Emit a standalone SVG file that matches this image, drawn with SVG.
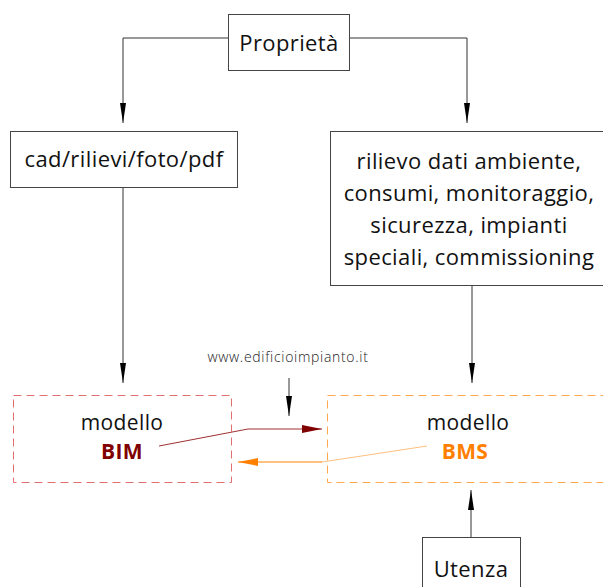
<svg xmlns="http://www.w3.org/2000/svg" width="603" height="587" viewBox="0 0 603 587">
<defs>
<style>
.box{fill:#fff;stroke:#444;stroke-width:1}
.t{font-family:"Open Sans","Noto Sans","DejaVu Sans",sans-serif;font-size:22px;letter-spacing:0.4px;fill:#111;text-anchor:middle}
.m{font-size:21px}
.b{font-weight:bold}
.c{fill:none;stroke:#333;stroke-width:1}
</style>
<marker id="ak" viewBox="0 0 20 6" refX="20" refY="3" markerWidth="20" markerHeight="6" markerUnits="userSpaceOnUse" orient="auto">
<path d="M0,0 L20,3 L0,6 Z" fill="#000"/>
</marker>
<marker id="ar" viewBox="0 0 20 8" refX="20" refY="4" markerWidth="20" markerHeight="8" markerUnits="userSpaceOnUse" orient="auto">
<path d="M0,0 L20,4 L0,8 Z" fill="#800000"/>
</marker>
<marker id="ao" viewBox="0 0 20 8" refX="20" refY="4" markerWidth="20" markerHeight="8" markerUnits="userSpaceOnUse" orient="auto">
<path d="M0,0 L20,4 L0,8 Z" fill="#ff8000"/>
</marker>
</defs>
<g id="connectors">
<path class="c" d="M228,38 H123 V123" marker-end="url(#ak)"/>
<path class="c" d="M349,38 H467 V123" marker-end="url(#ak)"/>
<path class="c" d="M123,188 V383" marker-end="url(#ak)"/>
<path class="c" d="M472,285 V383" marker-end="url(#ak)"/>
<path class="c" d="M289,378 V416" marker-end="url(#ak)"/>
<path class="c" d="M471,537 V490" marker-end="url(#ak)"/>
<path fill="none" stroke="#a03030" stroke-width="1" d="M159,446 L248,429 H322" marker-end="url(#ar)"/>
<path fill="none" stroke="#ffc080" stroke-width="1" d="M427,446 L322,462"/>
<path fill="none" stroke="#ff8000" stroke-width="1" d="M322,462 H238" marker-end="url(#ao)"/>
</g>
<g id="proprieta">
<rect class="box" x="228.5" y="14.5" width="121" height="56"/>
<text class="t" x="289" y="51">Proprietà</text>
</g>
<g id="cad">
<rect class="box" x="10.5" y="131.5" width="227" height="56"/>
<text class="t" x="124" y="167">cad/rilievi/foto/pdf</text>
</g>
<g id="rilievo">
<rect class="box" x="330.5" y="131.5" width="280" height="154"/>
<text class="t" x="469" y="169">rilievo dati ambiente,</text>
<text class="t" x="469" y="201">consumi, monitoraggio,</text>
<text class="t" x="469" y="233">sicurezza, impianti</text>
<text class="t" x="469" y="265">speciali, commissioning</text>
</g>
<g id="bim">
<rect x="13.5" y="395.5" width="218" height="87" fill="none" stroke="#e07070" stroke-width="1" stroke-dasharray="8,5"/>
<text class="t m" x="122" y="430">modello</text>
<text class="t m b" x="122" y="459" style="fill:#800000">BIM</text>
</g>
<g id="bms">
<rect x="327.5" y="395.5" width="290" height="87" fill="none" stroke="#ffa850" stroke-width="1" stroke-dasharray="8,5"/>
<text class="t m" x="468" y="430">modello</text>
<text class="t m b" x="465" y="459" style="fill:#ff8000">BMS</text>
</g>
<g id="www">
<text x="288" y="362" style="font-family:'Open Sans','Noto Sans',sans-serif;font-size:14px;letter-spacing:0.7px;font-weight:300;fill:#222;text-anchor:middle">www.edificioimpianto.it</text>
</g>
<g id="utenza">
<rect class="box" x="422.5" y="537.5" width="98" height="60"/>
<text class="t" x="471" y="577">Utenza</text>
</g>
</svg>
